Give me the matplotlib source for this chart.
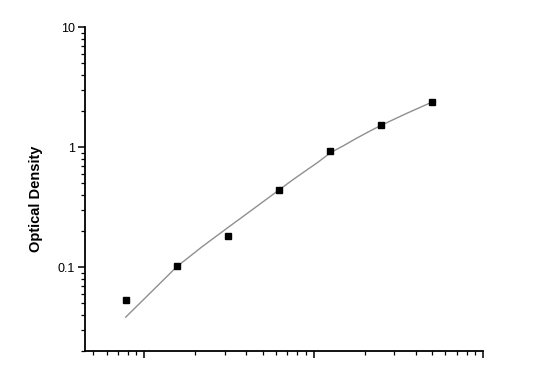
import matplotlib.pyplot as plt
from matplotlib.ticker import LogLocator, NullFormatter, FixedLocator, FixedFormatter

plt.rcParams['font.family'] = ['Liberation Sans', 'DejaVu Sans']

# standard concentrations (doubling dilutions) and measured OD
conc = [7.8125, 15.625, 31.25, 62.5, 125, 250, 500]
od = [0.053, 0.1025, 0.183, 0.437, 0.926, 1.525, 2.385]

# fitted curve
curve_x = [7.79, 11.0, 15.62, 22.0, 31.2, 44.2, 62.1, 74.1, 88.5, 105.6,
           126.1, 150.5, 177.2, 211.5, 249.1, 355, 504]
curve_y = [0.0383, 0.0619, 0.101, 0.148, 0.2134, 0.306, 0.4365, 0.5248, 0.626, 0.744,
           0.900, 1.029, 1.175, 1.344, 1.514, 1.913, 2.385]

fig = plt.figure(figsize=(5.36, 3.77), dpi=100)
ax = fig.add_axes([0.1586, 0.069, 0.7425, 0.859])

ax.plot(curve_x, curve_y, color='#8f8f8f', lw=1.0)
ax.plot(conc, od, 's', color='black', markersize=4.2)

ax.set_xscale('log')
ax.set_yscale('log')
ax.set_xlim(4.48, 1000)
ax.set_ylim(0.02, 10)

ax.spines['top'].set_visible(False)
ax.spines['right'].set_visible(False)
for s in ['left', 'bottom']:
    ax.spines[s].set_linewidth(1.3)

ax.yaxis.set_major_locator(FixedLocator([0.1, 1, 10]))
ax.yaxis.set_major_formatter(FixedFormatter(['0.1', '1', '10']))
ax.yaxis.set_minor_locator(LogLocator(base=10, subs=range(2, 10)))
ax.yaxis.set_minor_formatter(NullFormatter())
ax.xaxis.set_major_locator(FixedLocator([10, 100, 1000]))
ax.xaxis.set_minor_locator(LogLocator(base=10, subs=range(2, 10)))
ax.xaxis.set_minor_formatter(NullFormatter())

ax.tick_params(which='major', length=5, width=1.1, labelsize=9, pad=2)
ax.tick_params(which='minor', length=3, width=0.9)
ax.tick_params(axis='x', labelbottom=False)

ax.set_ylabel('Optical Density', fontsize=10.5, fontweight='bold')
ax.yaxis.set_label_coords(-0.106, 0.469)

fig.savefig('out.png', dpi=100)
